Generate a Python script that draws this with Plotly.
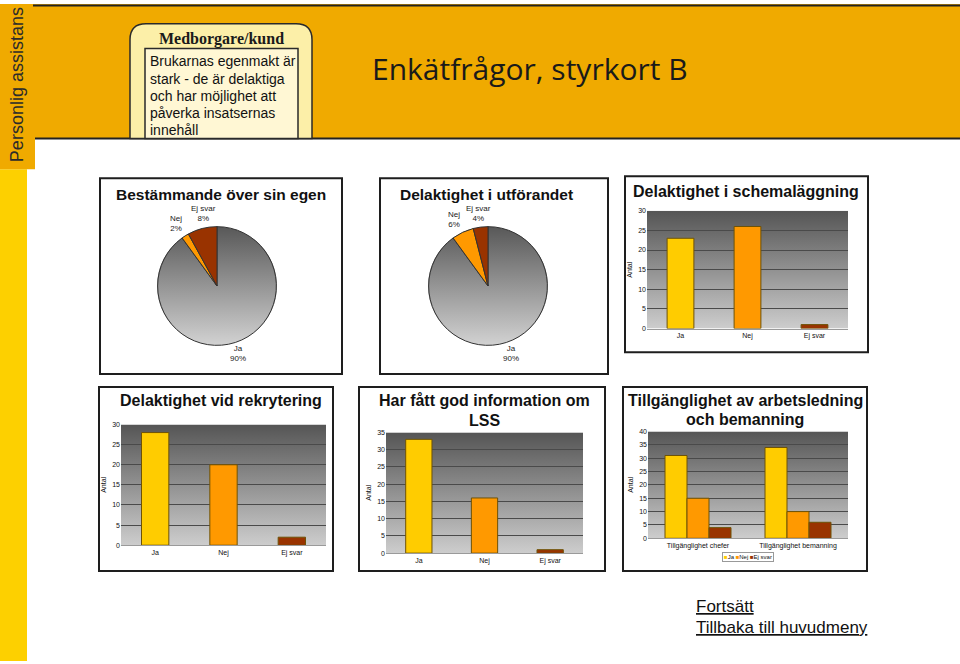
import base64
import plotly.graph_objects as go

# ---------------- data ----------------
pie_labels = ["Ja", "Nej", "Ej svar"]
pie1_values = [90, 2, 8]          # Bestämmande över sin egen
pie2_values = [90, 6, 4]          # Delaktighet i utförandet

bar_categories = ["Ja", "Nej", "Ej svar"]
schema_values = [23, 26, 1]       # Delaktighet i schemaläggning
rekry_values = [28, 20, 2]        # Delaktighet vid rekrytering
lss_values = [33, 16, 1]          # Har fått god information om LSS

group_categories = ["Tillgänglighet chefer", "Tillgänglighet bemanning"]
group_ja = [31, 34]
group_nej = [15, 10]
group_ej = [4, 6]

intro_lines = ["Brukarnas egenmakt är", "stark - de är delaktiga", "och har möjlighet att",
               "påverka insatsernas", "innehåll"]

# ---------------- style ----------------
W, H = 960, 664
FONT = "Arial, Liberation Sans, sans-serif"
C_JA, C_NEJ, C_EJ = "#FFCC00", "#FF9900", "#993300"
BAR_LINE = "#6e5206"
ORANGE = "#F0AA00"


def X(p):
    return p / W


def Y(p):
    return 1 - p / H


def grad_uri(top, bottom, circle=False):
    body = ('<circle cx="50" cy="50" r="50" fill="url(#g)"/>' if circle
            else '<rect width="100" height="100" fill="url(#g)"/>')
    svg = ('<svg xmlns="http://www.w3.org/2000/svg" width="100" height="100" '
           'viewBox="0 0 100 100" preserveAspectRatio="none"><defs>'
           '<linearGradient id="g" x1="0" y1="0" x2="0" y2="1">'
           f'<stop offset="0" stop-color="{top}"/><stop offset="1" stop-color="{bottom}"/>'
           '</linearGradient></defs>' + body + '</svg>')
    return "data:image/svg+xml;base64," + base64.b64encode(svg.encode()).decode()


fig = go.Figure()
annotations = []

def ann(text, x, y, size, color="#111111", family=FONT, xanchor="center", yanchor="middle",
        align="center", textangle=0):
    return dict(text=text, x=X(x), y=Y(y), xref="paper", yref="paper", showarrow=False,
                font=dict(size=size, color=color, family=family), xanchor=xanchor, yanchor=yanchor,
                align=align, textangle=textangle)

# ---------------- pies ----------------
# (left px, top px, values, label positions (px) for Ja, Nej, Ej svar)
pie_boxes = [
    (157, 225, pie1_values, [(238, 353), (176, 222), (203, 212)]),
    (428, 225, pie2_values, [(511, 353), (454, 218), (478, 212)]),
]
images = []
for (px, py, vals, lab_pos) in pie_boxes:
    fig.add_trace(go.Pie(
        labels=pie_labels, values=vals, sort=False, direction="clockwise", rotation=0,
        marker=dict(colors=["rgba(0,0,0,0)", C_NEJ, C_EJ], line=dict(color="#333333", width=1)),
        textinfo="none",
        domain=dict(x=[X(px), X(px + 120)], y=[Y(py + 120), Y(py)]),
        showlegend=False, hoverinfo="label+percent",
    ))
    images.append(dict(source=grad_uri("#585858", "#d2d2d2", circle=True), xref="paper", yref="paper",
                       x=X(px), y=Y(py), sizex=120 / W, sizey=120 / H, xanchor="left", yanchor="top",
                       sizing="stretch", layer="below"))
    total = sum(vals)
    for lab, v, (lx, ly) in zip(pie_labels, vals, lab_pos):
        annotations.append(ann(f"{lab}<br>{round(100 * v / total)}%", lx, ly, 8, color="#1a1a1a"))

# ---------------- bars ----------------
def bar_single(vals, ax):
    return go.Bar(x=bar_categories, y=vals, width=0.4,
                  marker=dict(color=[C_JA, C_NEJ, C_EJ], line=dict(color=BAR_LINE, width=1)),
                  xaxis="x" + ax, yaxis="y" + ax, showlegend=False)

fig.add_trace(bar_single(schema_values, ""))
fig.add_trace(bar_single(rekry_values, "2"))
fig.add_trace(bar_single(lss_values, "3"))
for name, vals, col in [("Ja", group_ja, C_JA), ("Nej", group_nej, C_NEJ), ("Ej svar", group_ej, C_EJ)]:
    fig.add_trace(go.Bar(x=group_categories, y=vals, name=name,
                         marker=dict(color=col, line=dict(color=BAR_LINE, width=1)),
                         xaxis="x4", yaxis="y4", showlegend=False))

# plot areas (pixel boxes): left, top, right, bottom, ymax
areas = {
    "": (647, 209, 848, 328, 30),
    "2": (121, 425, 326, 547, 30),
    "3": (386, 433, 583, 555, 35),
    "4": (648, 432, 848, 540, 40),
}
layout_axes = {}
for ax, (l, t, r, b, ymax) in areas.items():
    layout_axes["xaxis" + ax] = dict(domain=[X(l), X(r)], anchor="y" + ax, showgrid=False,
                                     showline=True, linecolor="#9a9a9a", linewidth=1,
                                     tickfont=dict(size=7, color="#111111", family=FONT),
                                     ticks="", fixedrange=True)
    layout_axes["yaxis" + ax] = dict(domain=[Y(b), Y(t)], anchor="x" + ax, range=[0, ymax], dtick=5,
                                     showgrid=True, gridcolor="#4a4a4a", gridwidth=1,
                                     zeroline=False, showline=False,
                                     tickfont=dict(size=7, color="#111111", family=FONT),
                                     title=dict(text="Antal", font=dict(size=7, color="#111111", family=FONT),
                                                standoff=4),
                                     ticks="", fixedrange=True)
    images.append(dict(source=grad_uri("#555555", "#cdcdcd"), xref=f"x{ax} domain", yref=f"y{ax} domain",
                       x=0, y=1, sizex=1, sizey=1, xanchor="left", yanchor="top",
                       sizing="stretch", layer="below"))

# ---------------- shapes ----------------
def rect(x0, y0, x1, y1, fill=None, line_color=None, lw=0, layer="below"):
    return dict(type="rect", xref="paper", yref="paper", x0=X(x0), x1=X(x1), y0=Y(y1), y1=Y(y0),
                fillcolor=fill if fill else "rgba(0,0,0,0)",
                line=dict(color=line_color if line_color else "rgba(0,0,0,0)", width=lw), layer=layer)

def hline(x0, x1, y, color="#222222", w=2):
    return dict(type="line", xref="paper", yref="paper", x0=X(x0), x1=X(x1), y0=Y(y), y1=Y(y),
                line=dict(color=color, width=w), layer="below")

def rounded_top(x0, y0, x1, y1, rad):
    return (f"M {X(x0)},{Y(y1)} L {X(x0)},{Y(y0 + rad)} Q {X(x0)},{Y(y0)} {X(x0 + rad)},{Y(y0)} "
            f"L {X(x1 - rad)},{Y(y0)} Q {X(x1)},{Y(y0)} {X(x1)},{Y(y0 + rad)} L {X(x1)},{Y(y1)} Z")

shapes = [
    rect(0, 167, 27, 664, fill="#FDD000"),
    rect(0, 0, 35, 167, fill=ORANGE),
    rect(35, 0, 960, 136, fill=ORANGE),
    hline(33, 960, 1.5, w=2),
    hline(35, 960, 136, w=2),
    dict(type="path", xref="paper", yref="paper", path=rounded_top(130, 20, 312, 136, 16),
         fillcolor="#FCEFA8", line=dict(color="#2a2a2a", width=1.5), layer="below"),
    rect(145, 45, 298, 136, fill="#FFF7D4", line_color="#2a2a2a", lw=1.5),
    # panel borders
    rect(100, 176, 342, 374, line_color="#1e1e1e", lw=2, layer="above"),
    rect(380, 176, 608, 374, line_color="#1e1e1e", lw=2, layer="above"),
    rect(625, 174, 868, 352, line_color="#1e1e1e", lw=2, layer="above"),
    rect(99, 387, 333, 573, line_color="#1e1e1e", lw=2, layer="above"),
    rect(359, 387, 605, 573, line_color="#1e1e1e", lw=2, layer="above"),
    rect(623, 387, 867, 573, line_color="#1e1e1e", lw=2, layer="above"),
]

# ---------------- annotations ----------------
annotations += [
    ann("Personlig assistans", 17, 82, 18, color="#2b2b2b", textangle=-90),
    ann("<b>Medborgare/kund</b>", 221, 35, 16, color="#1a1a1a",
        family="Liberation Serif, DejaVu Serif, serif"),
    ann("Enkätfrågor, styrkort B", 530, 65, 30, color="#1a1a1a", family="Open Sans, Noto Sans, sans-serif"),
    ann("<b>Bestämmande över sin egen</b>", 221, 193, 15.5),
    ann("<b>Delaktighet i utförandet</b>", 486, 193, 15.5),
    ann("<b>Delaktighet i schemaläggning</b>", 746, 189, 16),
    ann("<b>Delaktighet vid rekrytering</b>", 221, 401, 16),
    ann("<b>Har fått god information om</b>", 484, 401, 16),
    ann("<b>LSS</b>", 484, 421, 16),
    ann("<b>Tillgänglighet av arbetsledning</b>", 745, 401, 16),
    ann("<b>och bemanning</b>", 745, 420, 16),
    ann("<u>Fortsätt</u>", 694, 609, 17, color="#111111", xanchor="left", align="left"),
    ann("<u>Tillbaka till huvudmeny</u>", 694, 630, 17, color="#111111", xanchor="left", align="left"),
]
for line, ly in zip(intro_lines, [58, 76, 93, 110, 127]):
    annotations.append(ann(line, 148, ly, 14, color="#111111", xanchor="left", align="left"))

leg = ann(f"<span style='color:{C_JA}'>■</span>Ja <span style='color:{C_NEJ}'>■</span>Nej "
          f"<span style='color:{C_EJ}'>■</span>Ej svar", 748, 559, 6)
leg.update(bordercolor="#999999", borderwidth=1, bgcolor="white", borderpad=1)
annotations.append(leg)

fig.update_layout(
    width=W, height=H, margin=dict(l=0, r=0, t=0, b=0),
    paper_bgcolor="white", plot_bgcolor="rgba(0,0,0,0)",
    font=dict(family=FONT, color="#111111"),
    bargap=0.34, bargroupgap=0, barmode="group",
    shapes=shapes, images=images, annotations=annotations,
    **layout_axes,
)

fig.write_html("out.html", config={"displayModeBar": False},
               post_script="document.body.style.margin='0';document.body.style.padding='0';"
                           "document.documentElement.style.overflow='hidden';")
